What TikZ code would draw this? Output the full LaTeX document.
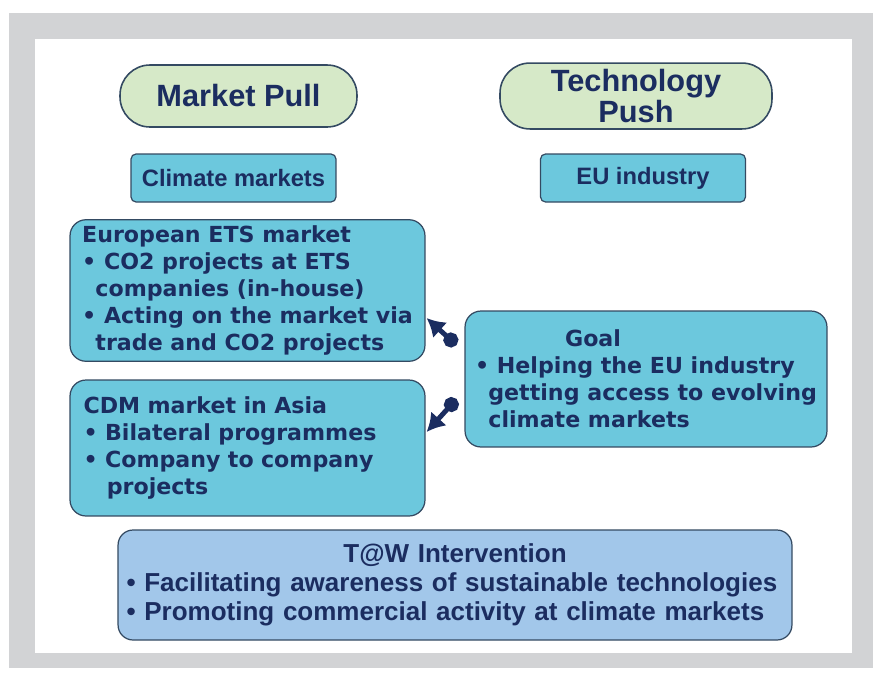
\documentclass[tikz,border=0pt]{standalone}
\usepackage{fontspec}
\setmainfont{Liberation Sans}
\newfontfamily\boxfont{DejaVu Sans}
\usetikzlibrary{positioning,arrows.meta,calc}

\definecolor{framegray}{RGB}{210,211,213}
\definecolor{pillgreen}{RGB}{214,233,200}
\definecolor{boxcyan}{RGB}{108,200,221}
\definecolor{boxblue}{RGB}{162,199,234}
\definecolor{navy}{RGB}{27,45,96}
\definecolor{edge}{RGB}{52,74,98}

\begin{document}
\begin{tikzpicture}[
  x=0.02cm, y=-0.02cm,
  >=Latex,
  pill/.style={draw=edge, line width=0.9pt, fill=pillgreen, rounded corners=0.6cm, minimum height=1.24cm, align=center, text=navy, font=\fontsize{17.5}{18}\selectfont\bfseries},
  tag/.style={draw=edge, line width=0.7pt, fill=boxcyan, rounded corners=0.1cm, minimum width=4.1cm, minimum height=0.96cm, text=navy, font=\fontsize{13.5}{16}\selectfont\bfseries},
  market/.style={draw=edge, line width=0.7pt, fill=boxcyan, rounded corners=0.32cm, minimum width=7.1cm, minimum height=2.7cm, align=left, text=navy, font=\boxfont\fontsize{12.6}{15.4}\selectfont\bfseries},
  goalbox/.style={market, minimum width=7.24cm, minimum height=2.72cm},
  action/.style={draw=edge, line width=0.7pt, fill=boxblue, rounded corners=0.3cm, minimum height=2.2cm, inner xsep=0.17cm, text width=13.14cm, align=left, text=navy, font=\fontsize{14.8}{16.6}\selectfont\bfseries},
  link/.style={line width=2.8pt, draw=navy, {Circle[length=0.3cm]}-{Latex[length=0.36cm,width=0.42cm]}}
]
\useasboundingbox (0,0) rectangle (874,673);

% Frame
\fill[framegray] (9,13) rectangle (873,668);
\fill[white] (35,39) rectangle (852,653);

% Pull and push
\node[pill, minimum width=4.74cm] (pull) at (238.5,96) {Market Pull};
\node[pill, minimum width=5.44cm] (push) at (636,96) {Technology\\Push};

\node[tag] (climate) at (233.5,178) {Climate markets};
\node[tag] (industry) at (643,178) {EU industry};

% Markets
\node[market] (ets) at (247.5,290.5) {%
  European ETS market\\
  • CO2 projects at ETS\\
  \hspace*{0.6em}companies (in-house)\\
  • Acting on the market via\\
  \hspace*{0.6em}trade and CO2 projects};

\node[market, minimum height=2.72cm, inner xsep=0.26cm, text width=6.56cm] (cdm) at (247.5,448) {%
  CDM market in Asia\\
  • Bilateral programmes\\
  • Company to company\\
  \hspace*{1.05em}projects};

% Goal
\node[goalbox] (goal) at (646,379) {%
  \hspace*{1.8cm}Goal\\
  • Helping the EU industry\\
  \hspace*{0.6em}getting access to evolving\\
  \hspace*{0.6em}climate markets};

% Goal -> markets
\coordinate (dotA) at ($(goal.west)+(-8,-34)$);
\coordinate (dotB) at ($(goal.west)+(-8,20)$);
\coordinate (tipA) at ($(ets.east)+(1,27.5)$);
\coordinate (tipB) at ($(cdm.east)+(1,-16)$);
\draw[link] (dotA) -- (tipA);
\draw[link] (dotB) -- (tipB);

% Intervention
\node[action] (tow) at (455,585) {%
  \makebox[\linewidth]{T@W Intervention}\\
  • Facilitating awareness of sustainable technologies\\
  • Promoting commercial activity at climate markets};

\end{tikzpicture}
\end{document}
